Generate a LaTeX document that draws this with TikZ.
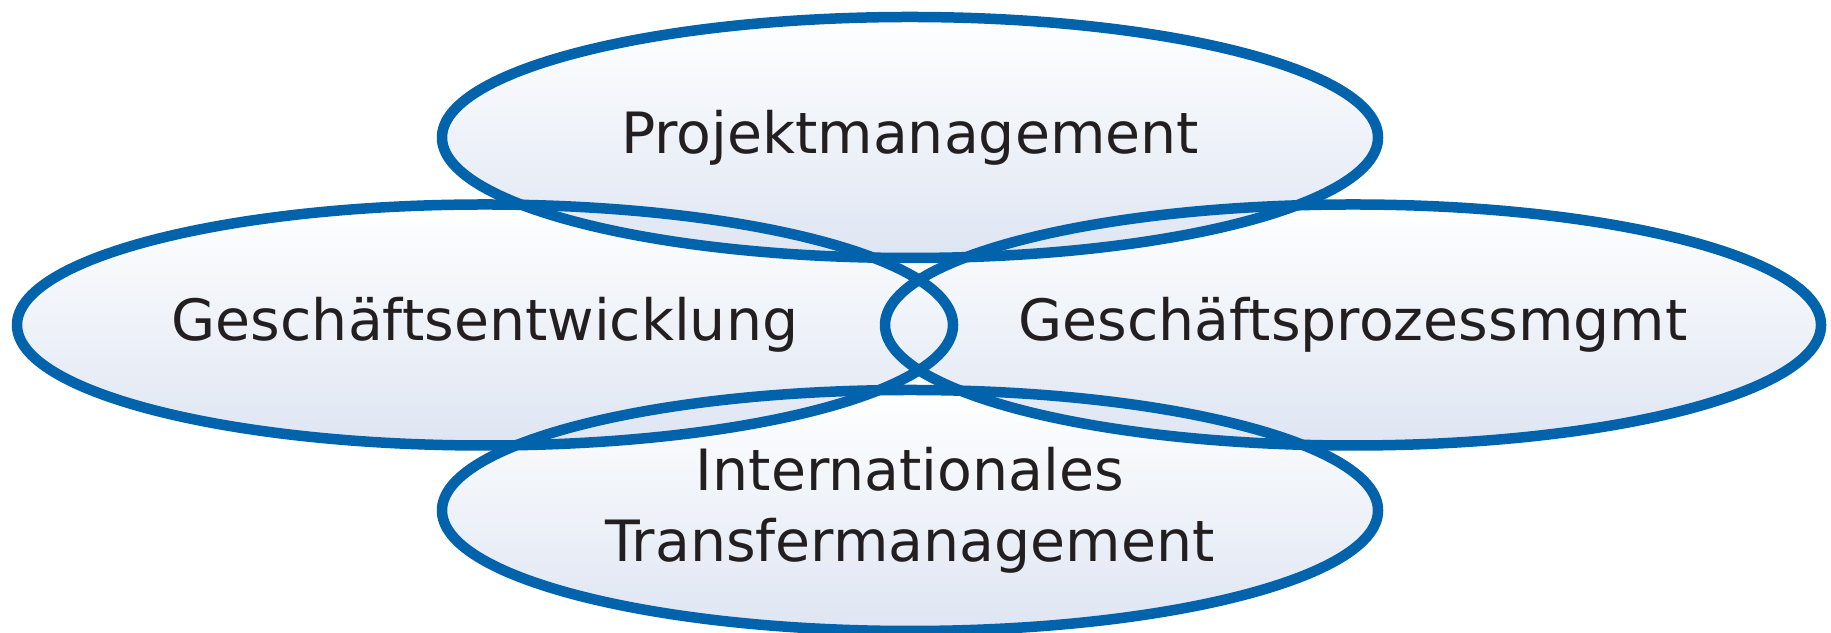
\documentclass[tikz,border=0pt]{standalone}
\usepackage{fontspec}
\setmainfont{DejaVu Sans}
\usetikzlibrary{shapes.geometric}
\definecolor{ringblue}{RGB}{0,99,172}
\definecolor{ringfill}{RGB}{222,229,242}
\definecolor{ringtext}{RGB}{35,31,32}

\begin{document}
\begin{tikzpicture}[
	field/.style={ellipse, minimum width=9.36cm, minimum height=2.41cm, inner sep=0pt, top color=white, bottom color=ringfill, text=ringtext, align=center, font=\fontsize{16.2}{20.2}\selectfont},
	rim/.style={ringblue, line width=0.105cm}]
	%\draw[help lines, thick] (0,0) grid (18,6);
	\useasboundingbox (0,0) rectangle (18.31,6.33);
	\node[field] (trans) at (9.10,1.225) {Internationales\\Transfermanagement};
	\node[field] (dev) at (4.85,3.08) {Geschäftsentwicklung};
	\node[field] (proc) at (13.53,3.08) {Geschäftsprozessmgmt};
	\node[field] (proj) at (9.10,4.955) {Projektmanagement};
	\foreach \n in {trans,dev,proc,proj}
		\draw[rim] (\n.center) ellipse [x radius=4.68, y radius=1.205];
\end{tikzpicture}
\end{document}
